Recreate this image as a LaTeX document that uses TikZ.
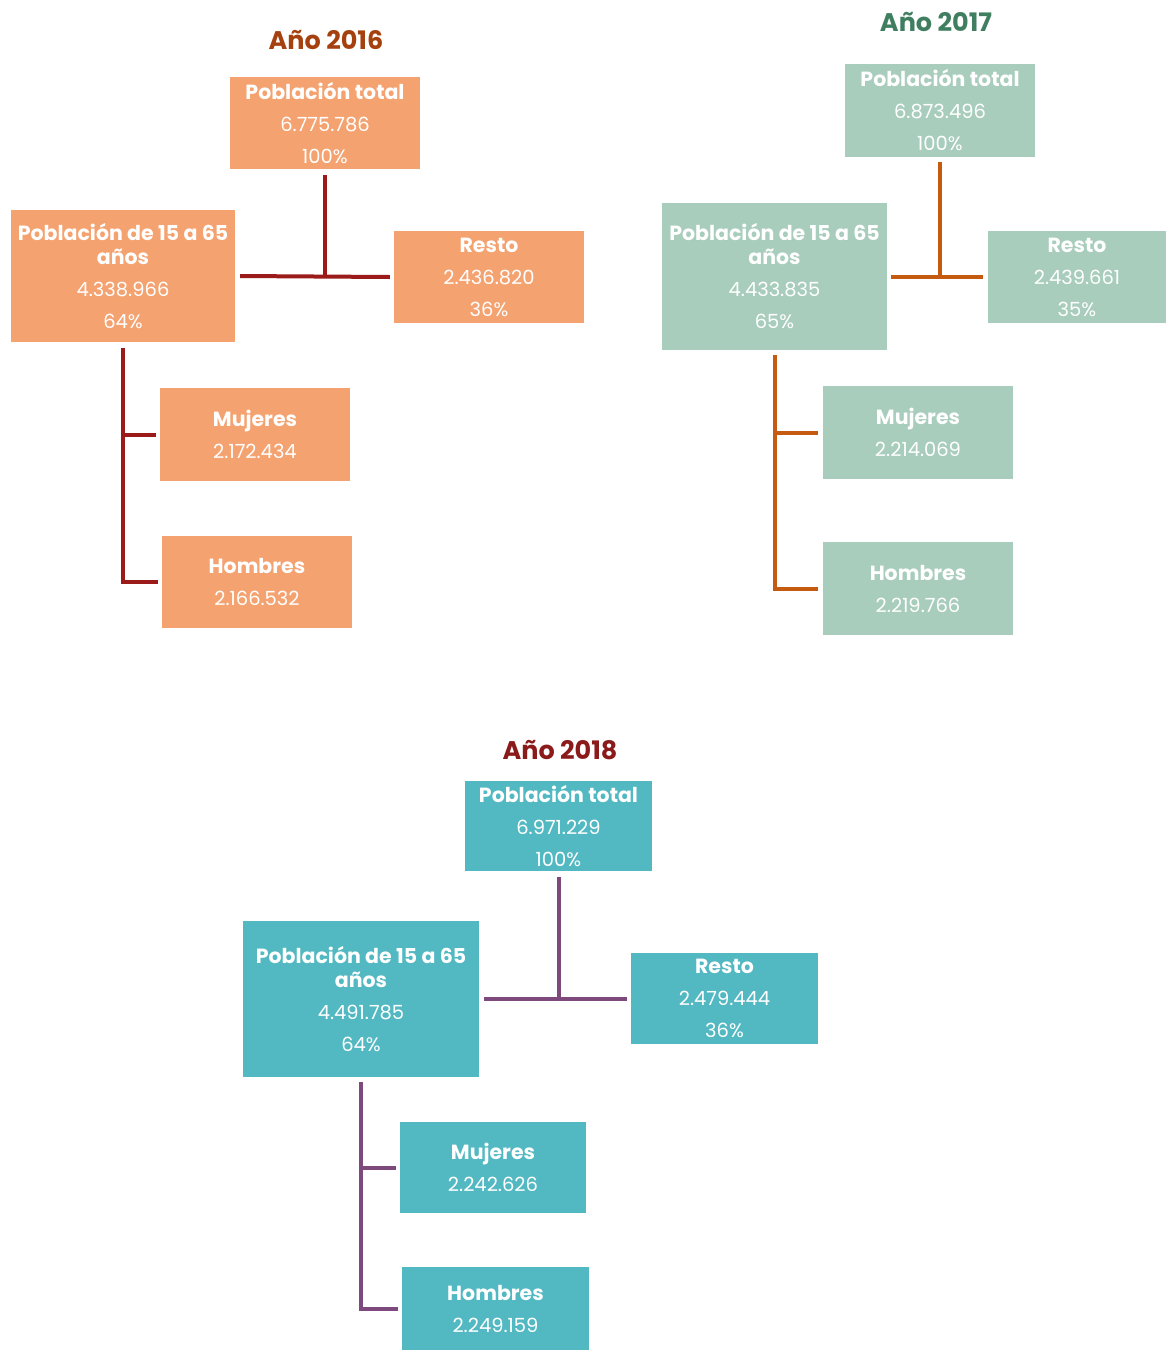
\documentclass[tikz,border=0pt]{standalone}
\usepackage{fontspec}
\setmainfont{Poppins}
\usepackage{xcolor}
\usetikzlibrary{calc}

\definecolor{fill16}{HTML}{F4A270}
\definecolor{fill17}{HTML}{A8CDBC}
\definecolor{fill18}{HTML}{52B8C2}
\definecolor{head16}{HTML}{A5410E}
\definecolor{head17}{HTML}{3F7F60}
\definecolor{head18}{HTML}{8B1A1A}
\definecolor{line16}{HTML}{9B1B1B}
\definecolor{line17}{HTML}{C55A11}
\definecolor{line18}{HTML}{7E4A7E}

\newcommand{\hd}[1]{{\fontsize{20.5}{24}\selectfont\bfseries #1}}

\begin{document}
\begin{tikzpicture}[x=1pt,y=1pt,
	box/.style={rectangle, text=white, align=center, inner sep=0pt,
		font=\fontsize{19.5}{32}\selectfont},
	title/.style={font=\fontsize{25.5}{30}\selectfont\bfseries},
	link/.style={line width=4pt}]
	\useasboundingbox (0,0) rectangle (1166,-1350);

	%year 2016
	\node[title,text=head16] (y16) at (326,-40) {Año 2016};
	\node[box,fill=fill16,minimum width=190,minimum height=92] (t16) at (325,-123) {\hd{Población total}\\6.775.786\\100\%};
	\node[box,fill=fill16,minimum width=224,minimum height=132] (p16) at (123,-276) {\hd{Población de 15 a 65}\\[-8pt]\hd{años}\\4.338.966\\64\%};
	\node[box,fill=fill16,minimum width=190,minimum height=92] (r16) at (489,-277) {\hd{Resto}\\2.436.820\\36\%};
	\node[box,fill=fill16,minimum width=190,minimum height=93] (m16) at (255,-434.5) {\hd{Mujeres}\\2.172.434};
	\node[box,fill=fill16,minimum width=190,minimum height=92] (h16) at (257,-582) {\hd{Hombres}\\2.166.532};
	\begin{scope}[link, line16]
	\draw ([xshift=5pt]p16.east) -- ([xshift=-4pt]r16.west);
	\draw ([yshift=-6pt]t16.south) -- (t16.south |- r16.west);
	\draw ([yshift=-6pt]p16.south) |- ([xshift=-4pt]h16.west);
	\draw (p16.south |- m16.west) -- ([xshift=-4pt]m16.west);
	\end{scope}

	%year 2017
	\node[title,text=head17] (y17) at (936,-22) {Año 2017};
	\node[box,fill=fill17,minimum width=190,minimum height=93] (t17) at (940,-110.5) {\hd{Población total}\\6.873.496\\100\%};
	\node[box,fill=fill17,minimum width=225,minimum height=147] (p17) at (774.5,-276.5) {\hd{Población de 15 a 65}\\[-8pt]\hd{años}\\4.433.835\\65\%};
	\node[box,fill=fill17,minimum width=178,minimum height=92] (r17) at (1077,-277) {\hd{Resto}\\2.439.661\\35\%};
	\node[box,fill=fill17,minimum width=190,minimum height=93] (m17) at (918,-432.5) {\hd{Mujeres}\\2.214.069};
	\node[box,fill=fill17,minimum width=190,minimum height=93] (h17) at (918,-588.5) {\hd{Hombres}\\2.219.766};
	\begin{scope}[link, line17]
	\draw ([xshift=4pt]p17.east |- r17.west) -- ([xshift=-5pt]r17.west);
	\draw ([yshift=-5pt]t17.south) -- (t17.south |- r17.west);
	\draw ([yshift=-5pt]p17.south) |- ([xshift=-5pt]h17.west);
	\draw (p17.south |- m17.west) -- ([xshift=-5pt]m17.west);
	\end{scope}

	%year 2018
	\node[title,text=head18] (y18) at (560,-750) {Año 2018};
	\node[box,fill=fill18,minimum width=187,minimum height=90] (t18) at (558.5,-826) {\hd{Población total}\\6.971.229\\100\%};
	\node[box,fill=fill18,minimum width=236,minimum height=156] (p18) at (361,-999) {\hd{Población de 15 a 65}\\[-8pt]\hd{años}\\4.491.785\\64\%};
	\node[box,fill=fill18,minimum width=187,minimum height=91] (r18) at (724.5,-998.5) {\hd{Resto}\\2.479.444\\36\%};
	\node[box,fill=fill18,minimum width=186,minimum height=91] (m18) at (493,-1167.5) {\hd{Mujeres}\\2.242.626};
	\node[box,fill=fill18,minimum width=187,minimum height=83] (h18) at (495.5,-1308.5) {\hd{Hombres}\\2.249.159};
	\begin{scope}[link, line18]
	\draw ([xshift=5pt]p18.east |- r18.west) -- ([xshift=-4pt]r18.west);
	\draw ([yshift=-6pt]t18.south) -- (t18.south |- r18.west);
	\draw ([yshift=-5pt]p18.south) |- ([xshift=-4pt]h18.west);
	\draw (p18.south |- m18.west) -- ([xshift=-4pt]m18.west);
	\end{scope}
\end{tikzpicture}
\end{document}
